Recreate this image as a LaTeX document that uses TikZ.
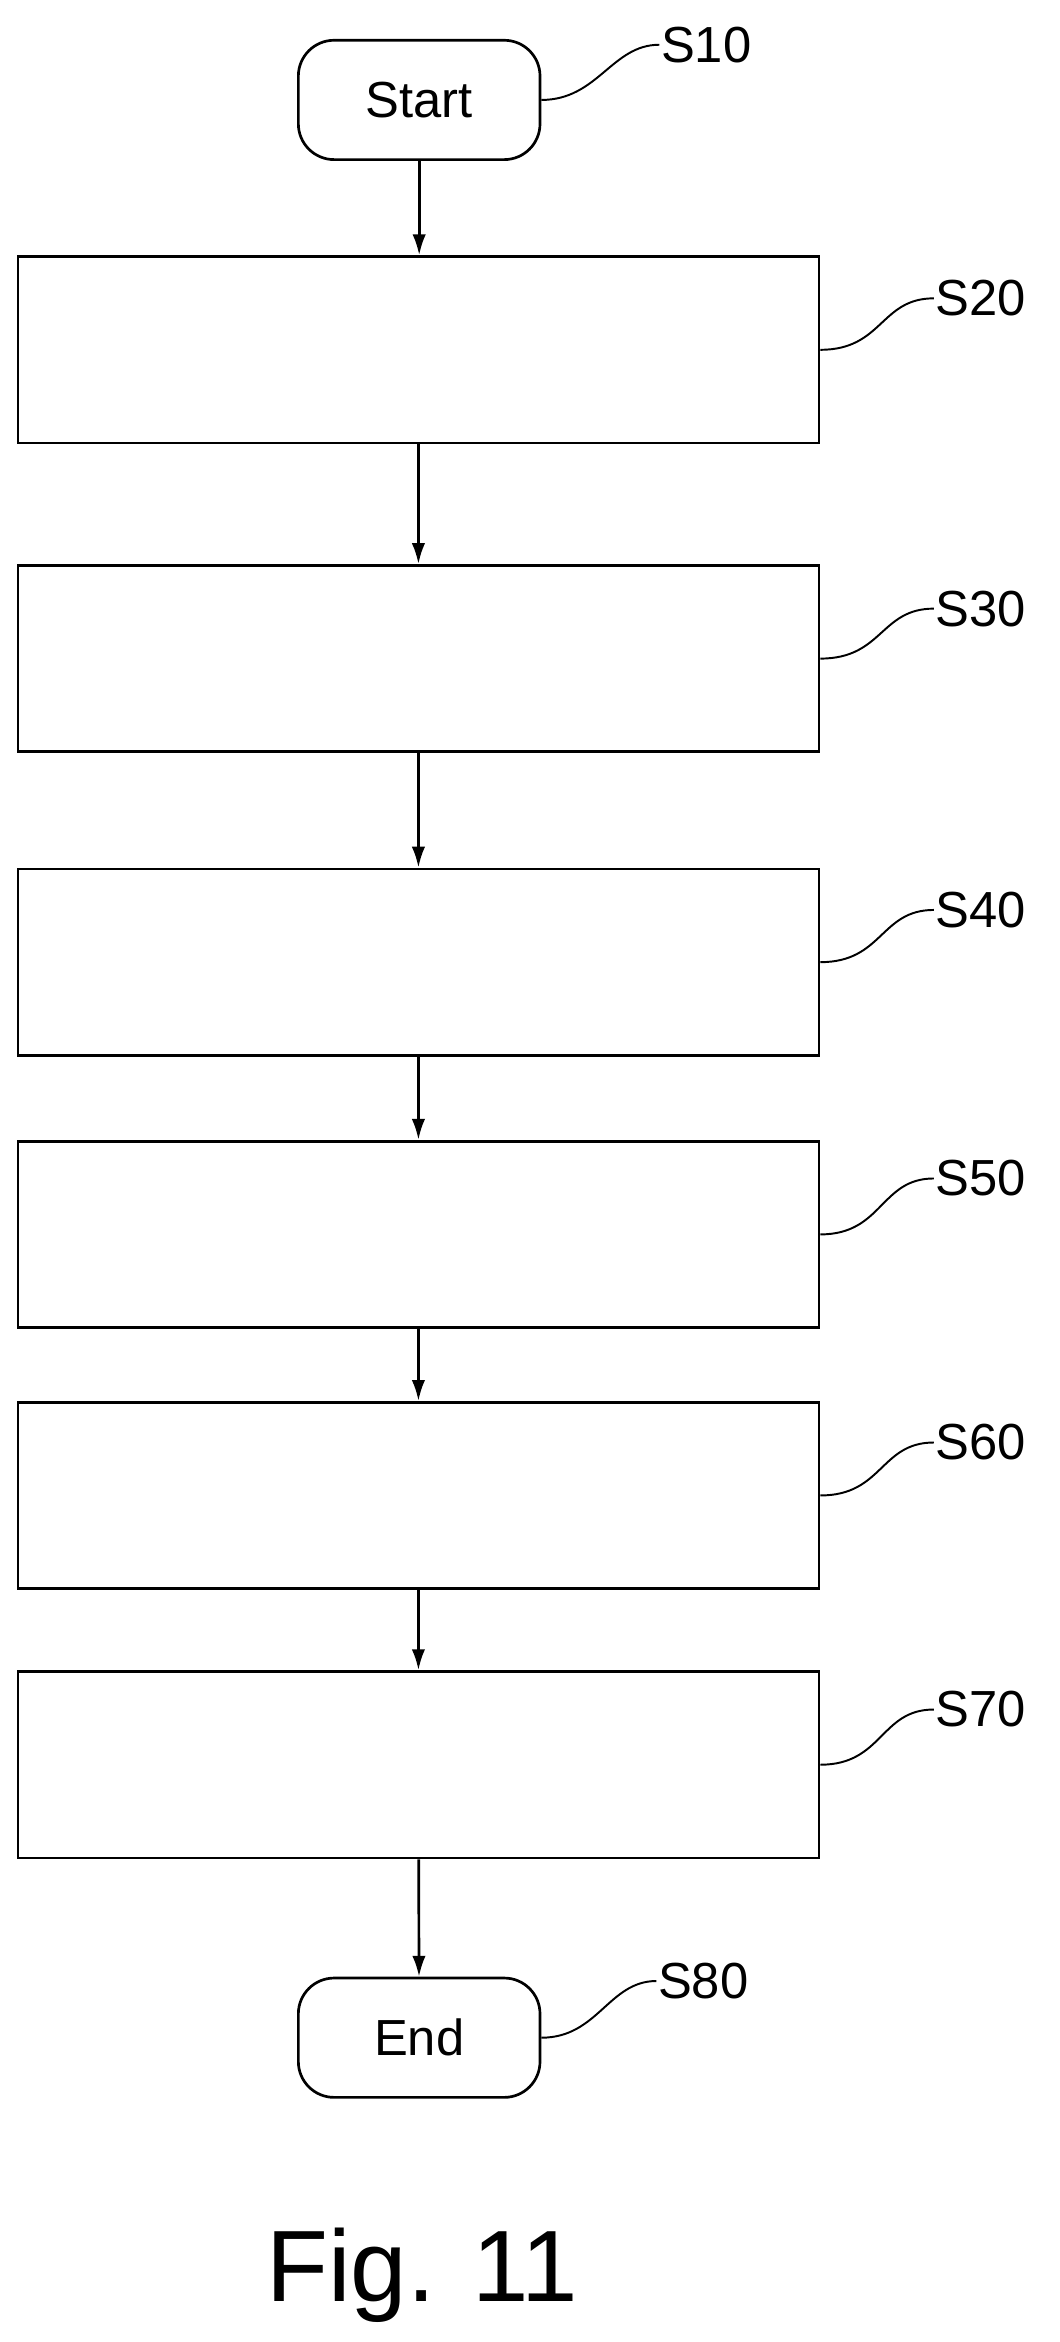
\documentclass[tikz,border=0pt]{standalone}
\usepackage{fontspec}
\setmainfont{Liberation Sans}
\usetikzlibrary{arrows.meta,positioning}
\begin{document}
\begin{tikzpicture}[x=1pt,y=-1pt]
		\tikzstyle{stepbox}=[rectangle, draw=black, line width=1.8pt, minimum width=537pt, minimum height=125pt, inner sep=0pt]
		\tikzstyle{term}=[rectangle, rounded corners=24pt, draw=black, line width=1.8pt, minimum width=162pt, minimum height=80pt, font=\fontsize{34}{34}\selectfont]
		\tikzstyle{connect}=[-{Latex[length=14pt,width=9pt]}, line width=1.8pt]
		\tikzstyle{lead}=[line width=1.3pt]
		\tikzstyle{ref}=[anchor=west, inner sep=1pt, font=\fontsize{34}{34}\selectfont]
		\useasboundingbox (0,0) rectangle (710,1570);
		\node[term] (start) at (281,67) {Start};
			\node[stepbox] (s20) at (280.5,234.5) {};
			\node[stepbox] (s30) at (280.5,441.5) {};
			\node[stepbox] (s40) at (280.5,645) {};
			\node[stepbox] (s50) at (280.5,827.5) {};
			\node[stepbox] (s60) at (280.5,1002.5) {};
			\node[stepbox] (s70) at (280.5,1183) {};
		\node[term] (end) at (281,1366) {End};
		\node (fig) at (283,1525) {\fontsize{68}{68}\selectfont Fig. 11};

		\path (start) edge [connect] (start |- s20.north)
			(s20) edge [connect] (s20.south |- s30.north)
			(s30) edge [connect] (s30.south |- s40.north)
			(s40) edge [connect] (s40.south |- s50.north)
			(s50) edge [connect] (s50.south |- s60.north)
			(s60) edge [connect] (s60.south |- s70.north)
			(s70) edge [connect] (end);

		% reference signs
		\node[ref] (l10) at (442,30) {S10};
		\node[ref] (l20) at (626,200) {S20};
		\node[ref] (l30) at (626,408) {S30};
		\node[ref] (l40) at (626,610) {S40};
		\node[ref] (l50) at (626,790) {S50};
		\node[ref] (l60) at (626,967) {S60};
		\node[ref] (l70) at (626,1146) {S70};
		\node[ref] (l80) at (440,1328) {S80};
		\draw[lead] (start.east) .. controls +(38,0) and +(-32,0) .. (l10.west);
		\draw[lead] (end.east) .. controls +(38,0) and +(-32,0) .. (l80.west);
		\foreach \s in {20,30,40,50,60,70}
			\draw[lead] (s\s.east) .. controls +(42,0) and +(-36,0) .. (l\s.west);
\end{tikzpicture}
\end{document}
